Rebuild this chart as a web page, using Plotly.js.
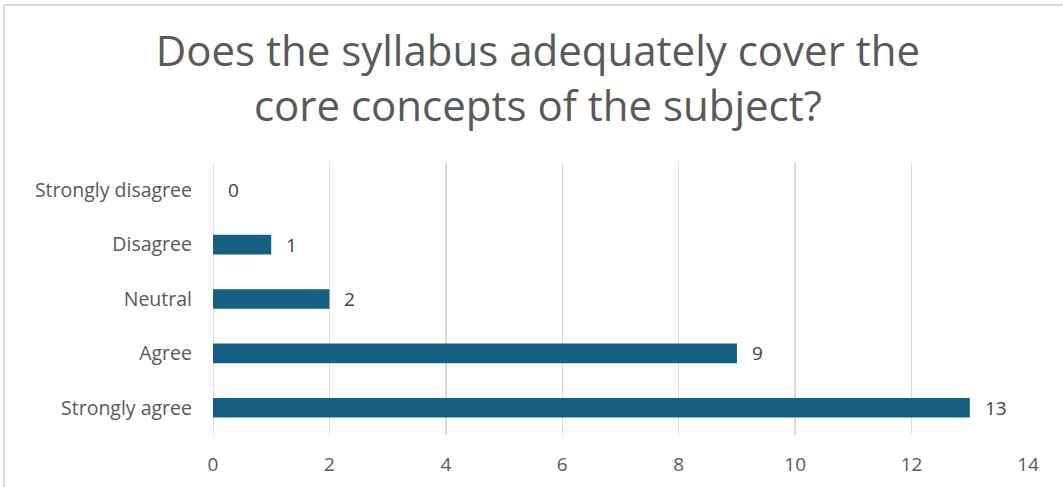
<!DOCTYPE html>
<html>
<head>
<meta charset="utf-8">
<script src="https://cdn.plot.ly/plotly-3.0.1.min.js"></script>
<style>html,body{margin:0;padding:0;background:#fff;}#chart{width:1063px;height:487px;}</style>
</head>
<body>
<div id="chart"></div>
<script>
const categories = ["Strongly disagree", "Disagree", "Neutral", "Agree", "Strongly agree"];
const counts = [0, 1, 2, 9, 13];
const xTicks = [0, 2, 4, 6, 8, 10, 12, 14];
const titleText = "Does the syllabus adequately cover the<br>core concepts of the subject?";

const FONT = "Open Sans, Liberation Sans, sans-serif";
const trace = {
  type: "bar",
  orientation: "h",
  x: counts,
  y: categories,
  marker: {color: "#156082", line: {width: 0}},
  hoverinfo: "none"
};

const annotations = categories.map((c, i) => ({
  x: counts[i], y: c, xref: "x", yref: "y",
  text: String(counts[i]), showarrow: false,
  xanchor: "left", yanchor: "middle", xshift: 13,
  font: {family: FONT, size: 19, color: "#404040"}
}));

const layout = {
  width: 1063, height: 487,
  margin: {l: 213, r: 35, t: 163, b: 52},
  paper_bgcolor: "#ffffff", plot_bgcolor: "#ffffff",
  showlegend: false,
  bargap: 0.64,
  title: {text: titleText, x: 0.506, xanchor: "center", yref: "container", y: 0.864, yanchor: "middle",
          font: {family: FONT, size: 42, color: "#595959"}},
  xaxis: {range: [0, 14], tickvals: xTicks, ticktext: xTicks.map(String),
          showgrid: true, gridcolor: "#D9D9D9", gridwidth: 1.5, zeroline: false,
          showline: false, ticks: "", ticklen: 0, ticklabelstandoff: 16,
          tickfont: {family: FONT, size: 19, color: "#595959"}},
  yaxis: {type: "category", categoryorder: "array", categoryarray: categories,
          autorange: "reversed", showgrid: false, zeroline: false,
          showline: false, ticks: "", ticklabelstandoff: 20,
          tickfont: {family: FONT, size: 19.5, color: "#595959"}},
  annotations: annotations,
  shapes: [
    {type: "line", xref: "x", yref: "paper", x0: 0, x1: 0, y0: 0, y1: 1,
     line: {color: "#D9D9D9", width: 1.5}, layer: "below"},
    {type: "line", xref: "paper", yref: "paper", x0: -0.2564, x1: 1.2, y0: 1.581, y1: 1.581,
     line: {color: "#D9D9D9", width: 2}},
    {type: "line", xref: "paper", yref: "paper", x0: -0.2564, x1: -0.2564, y0: 1.581, y1: -0.3,
     line: {color: "#D9D9D9", width: 2}}
  ]
};

Plotly.newPlot("chart", [trace], layout, {displayModeBar: false, staticPlot: true});
</script>
</body>
</html>
